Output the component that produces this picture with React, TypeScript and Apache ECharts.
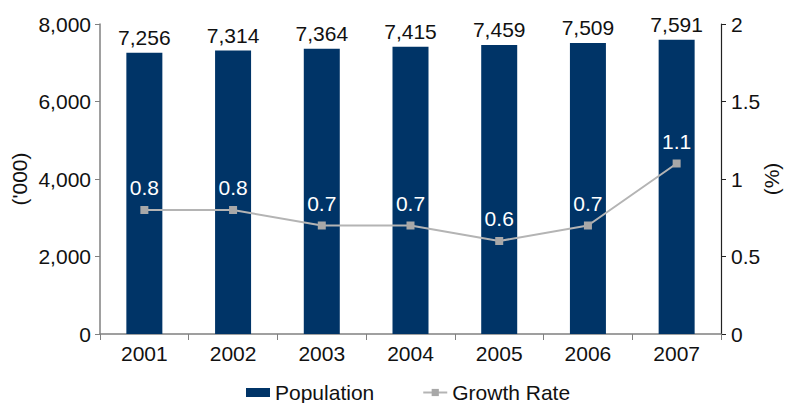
import React, { useEffect, useRef } from "react";
import * as echarts from "echarts";

const years = ["2001", "2002", "2003", "2004", "2005", "2006", "2007"];
const population = [7256, 7314, 7364, 7415, 7459, 7509, 7591];
const growthRate = [0.8, 0.8, 0.7, 0.7, 0.6, 0.7, 1.1];

const FONT = "'Liberation Sans', Arial, Helvetica, sans-serif";
const SIZE = 21;
const fmt = new Intl.NumberFormat("en-US");

export default function App() {
  const ref = useRef<HTMLDivElement>(null);

  useEffect(() => {
    if (!ref.current) return;
    const chart = echarts.init(ref.current, undefined, { renderer: "svg" });
    chart.setOption({
      animation: false,
      textStyle: { fontFamily: FONT },
      grid: {
        left: 100,
        right: 66,
        top: 24,
        bottom: 69,
        containLabel: false,
        outerBoundsMode: "none",
      },
      legend: {
        left: 241,
        top: 377,
        padding: 5,
        itemWidth: 24,
        itemHeight: 9,
        itemGap: 48,
        textStyle: { fontFamily: FONT, fontSize: SIZE, color: "#111" },
        data: [
          { name: "Population", icon: "rect" },
          { name: "Growth Rate" },
        ],
      },
      xAxis: {
        type: "category",
        data: years,
        axisLine: { lineStyle: { color: "#808080", width: 1.5 } },
        axisTick: { show: true, length: 6, lineStyle: { color: "#808080" } },
        axisLabel: { fontFamily: FONT, fontSize: SIZE, color: "#111", margin: 9 },
      },
      yAxis: [
        {
          type: "value",
          min: 0,
          max: 8000,
          interval: 2000,
          name: "('000)",
          nameLocation: "middle",
          nameRotate: 90,
          nameGap: 70,
          nameMoveOverlap: false,
          nameTextStyle: { fontFamily: FONT, fontSize: SIZE, color: "#111" },
          splitLine: { show: false },
          axisLine: { show: true, lineStyle: { color: "#808080", width: 1.5 } },
          axisTick: { show: true, length: 5, lineStyle: { color: "#808080" } },
          axisLabel: {
            fontFamily: FONT,
            fontSize: SIZE,
            color: "#111",
            margin: 9,
            formatter: (v: number) => fmt.format(v),
          },
        },
        {
          type: "value",
          min: 0,
          max: 2,
          interval: 0.5,
          name: "(%)",
          nameLocation: "middle",
          nameRotate: 90,
          nameGap: 40,
          nameMoveOverlap: false,
          nameTextStyle: { fontFamily: FONT, fontSize: SIZE, color: "#111" },
          splitLine: { show: false },
          axisLine: { show: true, lineStyle: { color: "#222", width: 1.2 } },
          axisTick: { show: true, length: 5, lineStyle: { color: "#222" } },
          axisLabel: { fontFamily: FONT, fontSize: SIZE, color: "#111", margin: 10 },
        },
      ],
      series: [
        {
          name: "Population",
          type: "bar",
          data: population,
          barWidth: 36,
          itemStyle: { color: "#003467" },
          label: {
            show: true,
            position: "top",
            distance: 5,
            fontFamily: FONT,
            fontSize: SIZE,
            color: "#111",
            formatter: (p: any) => fmt.format(p.value),
          },
        },
        {
          name: "Growth Rate",
          type: "line",
          yAxisIndex: 1,
          data: growthRate,
          symbol: "rect",
          symbolSize: 8,
          itemStyle: { color: "#a8a8a8" },
          lineStyle: { color: "#b4b4b4", width: 2 },
          label: {
            show: true,
            position: "top",
            distance: 8,
            fontFamily: FONT,
            fontSize: SIZE,
            color: "#ffffff",
          },
        },
      ],
    });
    return () => chart.dispose();
  }, []);

  return (
    <div
      ref={ref}
      style={{ position: "fixed", left: 0, top: 0, width: 787, height: 403, background: "#fff" }}
    />
  );
}
